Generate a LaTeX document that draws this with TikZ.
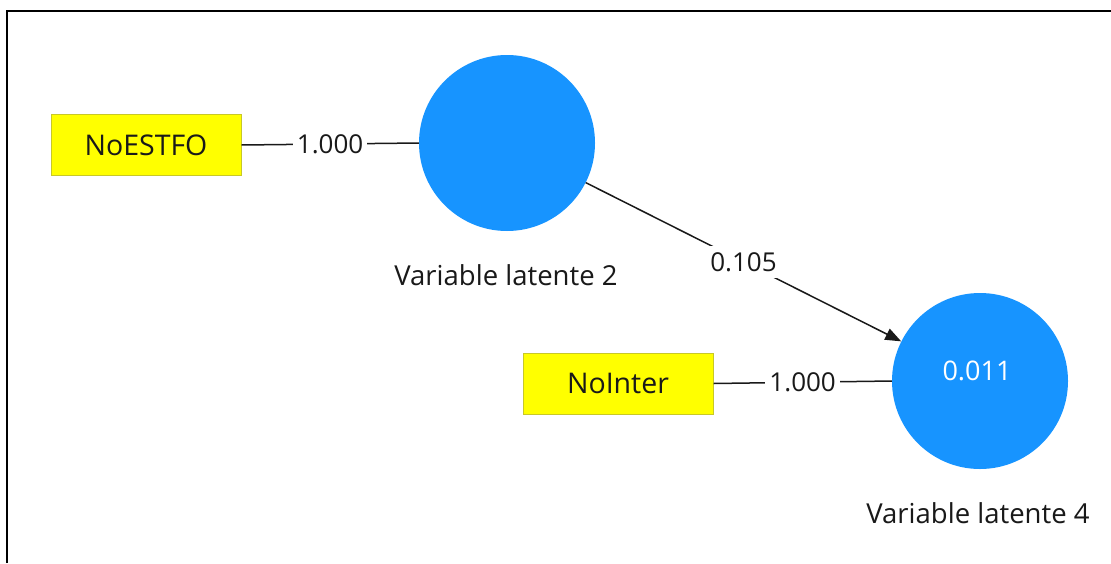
\documentclass[tikz,border=0pt]{standalone}
\usepackage{fontspec}
\setmainfont{Open Sans}
\usetikzlibrary{arrows.meta}
\definecolor{lvblue}{RGB}{23,148,255}
\definecolor{boxyellow}{RGB}{255,255,0}
\definecolor{boxedge}{RGB}{200,200,40}
\definecolor{txt}{RGB}{25,25,25}
\begin{document}
\begin{tikzpicture}[x=1pt,y=-1pt,
  font=\fontsize{26}{30}\selectfont,
  indbox/.style={draw=boxedge, fill=boxyellow, line width=1pt, minimum width=190pt, minimum height=61pt, inner sep=0pt, text=txt, font=\fontsize{28.5}{32}\selectfont},
  latent/.style={circle, fill=lvblue, draw=none, minimum size=176pt, inner sep=0pt, text=white},
  lvname/.style={text=txt, inner sep=0pt, font=\fontsize{27.5}{32}\selectfont},
  wlabel/.style={fill=white, text=txt, inner sep=4pt},
  conn/.style={draw=txt, line width=1.5pt},
  path/.style={draw=txt, line width=1.5pt, -{Triangle[length=16pt,width=12pt]}}
]
\useasboundingbox (0,0) rectangle (1111,563);
\fill[white] (0,0) rectangle (1111,563);
% frame
\draw[line width=2.2pt] (7,563) -- (7,11) -- (1111,11);

\node[indbox] (b1) at (146,145) {NoESTFO};
\node[indbox] (b2) at (618,383.5) {NoInter};
\node[latent] (lv2) at (507,143) {};
\node[latent] (lv4) at (980,381) {};
\node[text=white, inner sep=0pt, font=\fontsize{27}{30}\selectfont] (r2) at (977,371) {0.011};
\node[lvname] (n2) at (506,275) {Variable latente 2};
\node[lvname] (n4) at (978,513) {Variable latente 4};

\draw[conn] (b1.east) -- node[wlabel] {1.000} (lv2.west);
\draw[conn] (b2.east) -- node[wlabel] {1.000} (lv4.west);
\draw[path] (lv2) -- node[wlabel, inner sep=6pt] {0.105} (lv4);
\end{tikzpicture}
\end{document}
